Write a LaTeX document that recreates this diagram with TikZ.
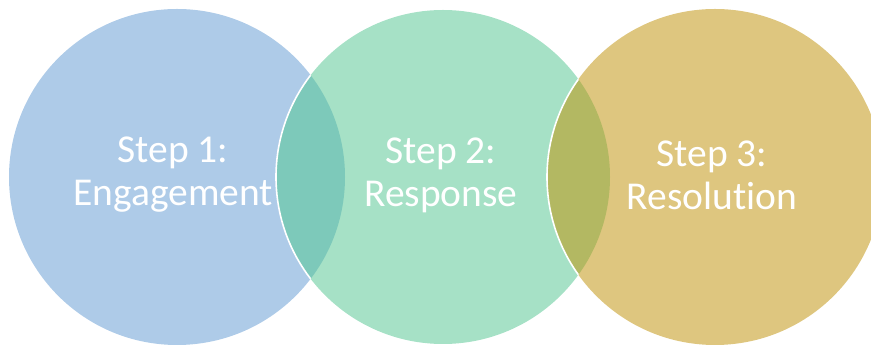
\documentclass[tikz,border=0pt]{standalone}
\usepackage{fontspec}
\setmainfont[Ligatures=NoCommon]{Carlito}
\definecolor{cblue}{HTML}{AECBE8}
\definecolor{cgreen}{HTML}{A6E1C6}
\definecolor{corange}{HTML}{DEC67F}
\definecolor{lensA}{HTML}{7DC9BA}
\definecolor{lensB}{HTML}{B3B862}
\tikzset{
  steplabel/.style={text=white, align=center, font=\fontsize{39.5}{43}\selectfont, inner sep=0pt},
  edge/.style={draw=white, line width=1.6pt}
}
\begin{document}
\begin{tikzpicture}[x=1pt,y=1pt]
\useasboundingbox (0,0) rectangle (871,347);
\coordinate (c1) at (177,170);
\coordinate (c2) at (443,170);
\coordinate (c3) at (715,170);
% circles
\fill[cblue] (c1) circle[radius=168];
\fill[cgreen] (c2) circle[radius=167];
\fill[corange] (c3) circle[radius=168];
% lenses
\begin{scope}
  \clip (c1) circle[radius=168];
  \fill[lensA] (c2) circle[radius=167];
  \draw[edge] (c2) circle[radius=167];
\end{scope}
\begin{scope}
  \clip (c2) circle[radius=167];
  \fill[lensB] (c3) circle[radius=168];
  \draw[edge] (c3) circle[radius=168];
\end{scope}
% labels
\node[steplabel] (t1) at (173,172) {Step 1:\\Engagement};
\node[steplabel] (t2) at (441,172) {Step 2:\\Response};
\node[steplabel] (t3) at (712,172) {Step 3:\\Resolution};
\end{tikzpicture}
\end{document}
